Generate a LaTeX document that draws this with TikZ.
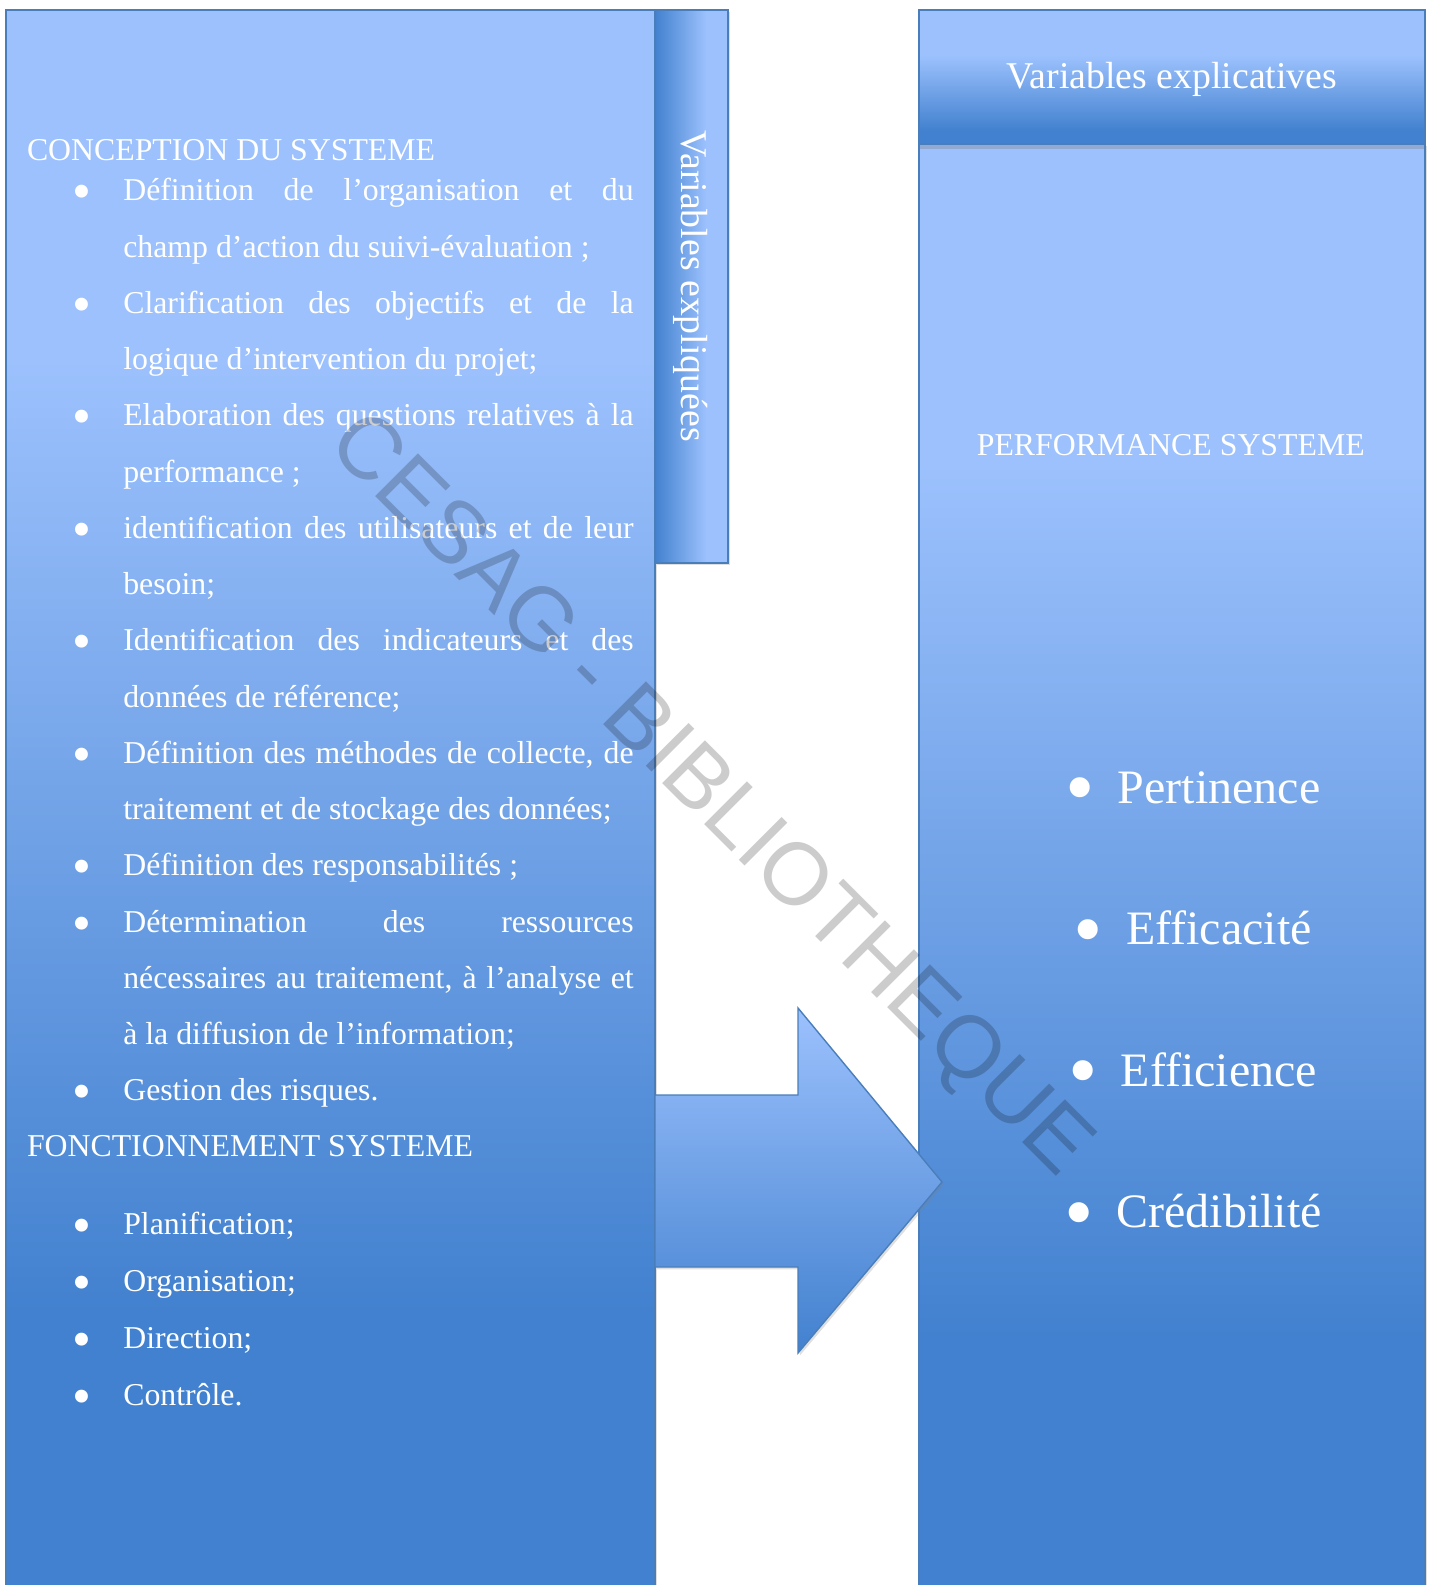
\documentclass[tikz,border=0pt]{standalone}
\usepackage{fontspec}
\setmainfont{Liberation Serif}
\newfontfamily\stampfont{Liberation Sans}
\usetikzlibrary{positioning,shadows}

\definecolor{plight}{RGB}{156,193,253}
\definecolor{pdark}{RGB}{66,129,207}
\definecolor{pline}{RGB}{74,126,187}

\pgfdeclareverticalshading{panelfade}{100bp}{color(0bp)=(pdark); color(34bp)=(pdark); color(64bp)=(plight); color(100bp)=(plight)}
\pgfdeclareverticalshading{headfade}{100bp}{color(0bp)=(pdark); color(30bp)=(pdark); color(58bp)=(plight); color(100bp)=(plight)}
\pgfdeclarehorizontalshading{tabfade}{100bp}{color(0bp)=(pdark); color(25bp)=(pdark); color(60bp)=(plight); color(100bp)=(plight)}

\newcommand{\blt}{\noindent\strut\llap{\raisebox{-4.4pt}{\fontsize{27}{27}\selectfont\textbullet}\hspace{15.9pt}}}
\newcommand{\bigblt}{\llap{\raisebox{-6.3pt}{\fontsize{42}{42}\selectfont\textbullet}\hspace{11.4pt}}}

\begin{document}
\begin{tikzpicture}[
    x=0.5pt, y=-0.5pt,
    panel/.style={draw=pline, line width=0.7pt},
    shadowed/.style={drop shadow={opacity=0.25, shadow xshift=1pt, shadow yshift=-1.2pt}},
    txt/.style={text=white, inner sep=0pt, outer sep=0pt, font=\fontsize{15.9}{28.125}\selectfont},
    itembox/.style={txt, text width=255.2pt, align=justify, anchor=north west,
        execute at begin node={\tolerance=10000\blt}, execute at end node=\strut},
    planitem/.style={itembox, font=\fontsize{15.9}{28.5}\selectfont},
    bigitem/.style={txt, anchor=base, font=\fontsize{24}{28}\selectfont},
    headtxt/.style={txt, font=\fontsize{18.9}{22}\selectfont}
]
\useasboundingbox (0,0) rectangle (1431,1585);
\clip (0,0) rectangle (1431,1585);

\shadedraw[panel, shadowed, shading=panelfade] (6,10) rectangle (655,1600);
\shadedraw[panel, shadowed, shading=tabfade] (655,10) rectangle (728,563);
\shadedraw[panel, shadowed, shading=panelfade] (919,144) rectangle (1425,1600);
\shadedraw[panel, drop shadow={opacity=0.35, shadow xshift=0pt, shadow yshift=-2.5pt}, shading=headfade] (919,10) rectangle (1425,144);
\draw[panel] (919,10) rectangle (1425,1600);
\shadedraw[panel, shadowed, top color=plight, bottom color=pdark] (655,1095) -- (798,1095) -- (798,1008) -- (942,1182) -- (798,1353) -- (798,1267) -- (655,1267) -- cycle;

\node[txt, anchor=base west] (conc) at (27,160) {CONCEPTION DU SYSTEME};
\node[itembox] (it1) at (123.3,161.6) {Définition de l’organisation et du\linebreak champ d’action du suivi-évaluation ;};
\node[itembox, below=0pt of it1] (it2) {Clarification des objectifs et de la\linebreak logique d’intervention du projet;};
\node[itembox, below=0pt of it2] (it3) {Elaboration des questions relatives à la\linebreak performance ;};
\node[itembox, below=0pt of it3] (it4) {identification des utilisateurs et de leur\linebreak besoin;};
\node[itembox, below=0pt of it4] (it5) {Identification des indicateurs et des\linebreak données de référence;};
\node[itembox, below=0pt of it5] (it6) {Définition des méthodes de collecte, de\linebreak traitement et de stockage des données;};
\node[itembox, below=0pt of it6] (it7) {Définition des responsabilités ;};
\node[itembox, below=0pt of it7] (it8) {Détermination des ressources\linebreak nécessaires au traitement, à l’analyse et\linebreak à la diffusion de l’information;};
\node[itembox, below=0pt of it8] (it9) {Gestion des risques.};

\node[txt, anchor=base west] (fonct) at (27,1156) {FONCTIONNEMENT SYSTEME};
\node[planitem] (pl1) at (123.3,1194.5) {Planification;};
\node[planitem, below=0pt of pl1] (pl2) {Organisation;};
\node[planitem, below=0pt of pl2] (pl3) {Direction;};
\node[planitem, below=0pt of pl3] (pl4) {Contrôle.};

\node[headtxt, rotate=-90] (expliq) at (690.5,286) {Variables expliquées};
\node[headtxt, anchor=base] (explic) at (1172,88) {Variables explicatives};
\node[txt, anchor=base] (perf) at (1170.8,455) {PERFORMANCE SYSTEME};
\foreach \word [count=\i] in {Pertinence, Efficacité, Efficience, Crédibilité}
    \node[bigitem] (crit\i) at (1219,{803+141.5*(\i-1)}) {\bigblt\word};

\node[rotate=-45, font=\stampfont\fontsize{44}{44}\selectfont, text=black, text opacity=0.2] (stamp) at (708,797) {CESAG - BIBLIOTHEQUE};
\end{tikzpicture}
\end{document}
